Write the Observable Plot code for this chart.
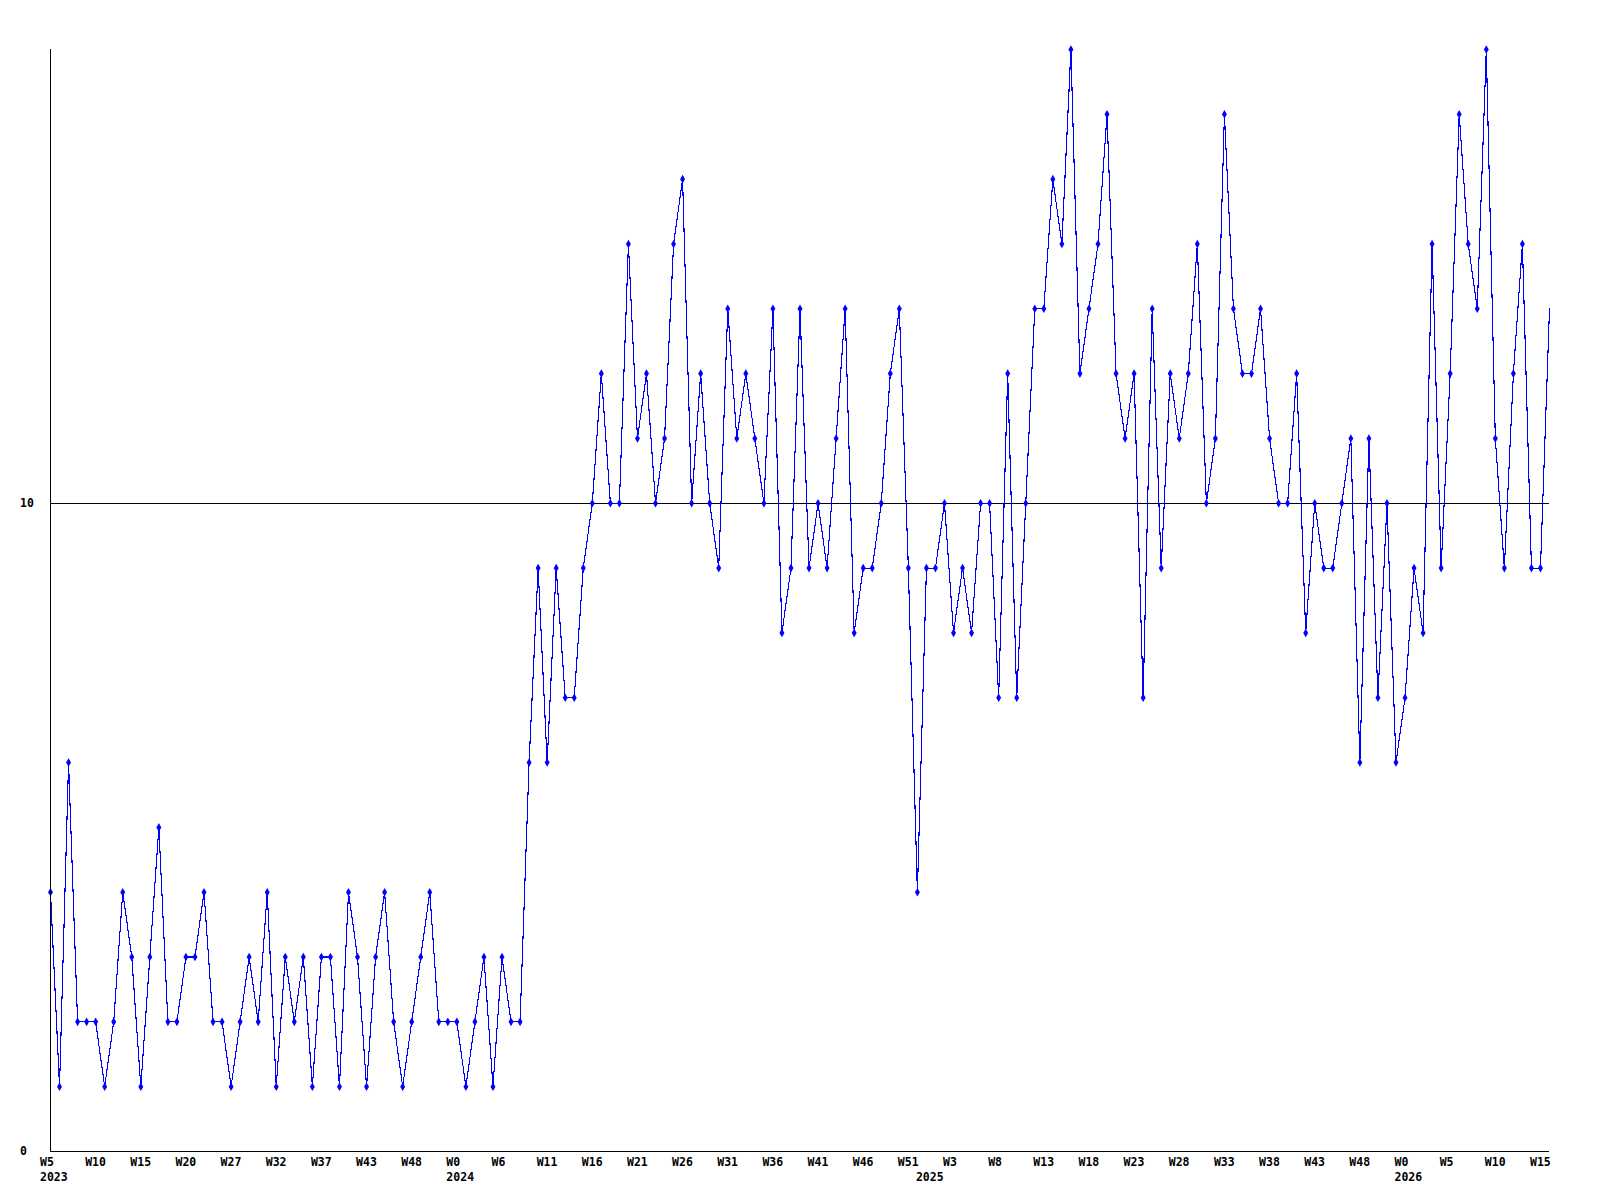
<!DOCTYPE html>
<html>
<head>
<meta charset="utf-8">
<script src="https://cdn.jsdelivr.net/npm/d3@7"></script>
<script src="https://cdn.jsdelivr.net/npm/@observablehq/plot@0.6"></script>
<style>
  html, body { margin: 0; padding: 0; background: #fff; }
  #chart svg { display: block; }
</style>
</head>
<body>
<div id="chart"></div>
<script>
// Weekly values, one per data point (index 0 = 2023 W5)
const values = [
  4,1,6,2,2,2,1,2,4,3, 1,3,5,2,2,3,3,4,2,2,
  1,2,3,2,4,1,3,2,3,1, 3,3,1,4,3,1,3,4,2,1,
  2,3,4,2,2,2,1,2,3,1, 3,2,2,6,9,6,9,7,7,9,
  10,12,10,10,14,11,12,10,11,14, 15,10,12,10,9,13,11,12,11,10,
  13,8,9,13,9,10,9,11,13,8, 9,9,10,12,13,9,4,9,9,10,
  8,9,8,10,10,7,12,7,10,13, 13,15,14,17,12,13,14,16,12,11,
  12,7,13,9,12,11,12,14,10,11, 16,13,12,12,13,11,10,10,12,8,
  10,9,9,10,11,6,11,7,10,6, 7,9,8,14,9,12,16,14,13,17,
  11,9,12,14,9,9,13
];

// Week tick labels and the data index where each sits
const tickIndex = [0,5,10,15,20,25,30,35,40,45,50,55,60,65,70,75,80,85,90,95,100,105,110,115,120,125,130,135,140,145,150,155,160,165];
const tickLabels = ["W5","W10","W15","W20","W27","W32","W37","W43","W48","W0","W6","W11","W16","W21","W26","W31","W36","W41","W46","W51","W3","W8","W13","W18","W23","W28","W33","W38","W43","W48","W0","W5","W10","W15"];

// Year labels and their data index
const yearIndex = [0, 45, 97, 150];
const yearLabels = ["2023", "2024", "2025", "2026"];

// Y axis labels
const yTickValues = [0, 10];
const yTickLabels = ["0", "10"];

const points = values.map((v, i) => ({i, v}));
const ticks = tickIndex.map((i, k) => ({i, t: tickLabels[k]}));
const years = yearIndex.map((i, k) => ({i, t: yearLabels[k]}));
const yticks = yTickValues.map((v, k) => ({v, t: yTickLabels[k]}));

const font = {fontFamily: "DejaVu Sans Mono", fontWeight: "bold", fontSize: 11.5};

const chart = Plot.plot({
  width: 1600,
  height: 1200,
  marginLeft: 50,
  marginRight: 51,
  marginTop: 49,
  marginBottom: 49,
  x: {domain: [0, values.length - 1], axis: null},
  y: {domain: [0, 17], axis: null},
  style: {background: "#fff"},
  marks: [
    Plot.ruleY([10], {x1: 0, x2: values.length - 1, stroke: "#000", strokeWidth: 1, shapeRendering: "crispEdges"}),
    Plot.line(points, {x: "i", y: "v", stroke: "#0000ff", strokeWidth: 1.1, shapeRendering: "crispEdges"}),
    Plot.dot(points.slice(0, -1), {x: "i", y: "v", symbol: "diamond", r: 2.6, fill: "#0000ff", stroke: null}),
    Plot.ruleX([0], {y1: 0, y2: 17, stroke: "#000", strokeWidth: 1.3, shapeRendering: "crispEdges"}),
    Plot.ruleY([0], {x1: 0, x2: values.length - 1, stroke: "#000", strokeWidth: 1.3, shapeRendering: "crispEdges"}),
    Plot.text(ticks, {x: "i", y: 0, text: "t", textAnchor: "start", dx: -10.5, dy: 11, fill: "#000", ...font}),
    Plot.text(years, {x: "i", y: 0, text: "t", textAnchor: "start", dx: -10.5, dy: 26, fill: "#000", ...font}),
    Plot.text(yticks, {y: "v", frameAnchor: "left", text: "t", textAnchor: "start", dx: -30.5, fill: "#000", ...font})
  ]
});
document.getElementById("chart").appendChild(chart);
</script>
</body>
</html>
